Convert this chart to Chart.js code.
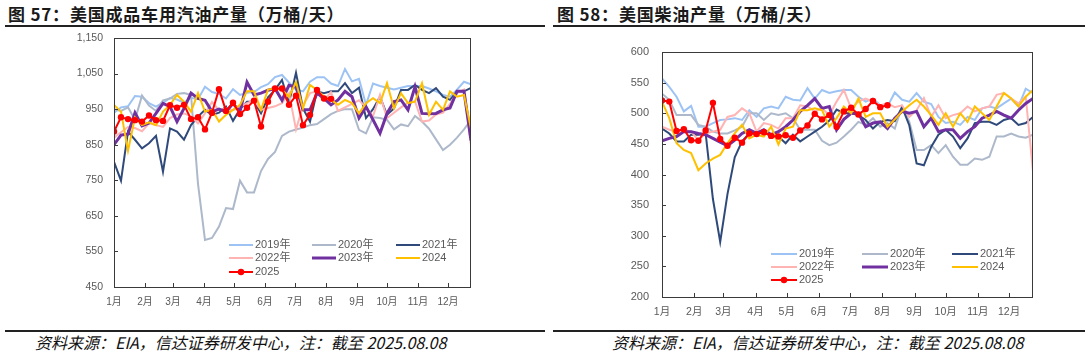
<!DOCTYPE html>
<html><head><meta charset="utf-8">
<script src="https://cdn.jsdelivr.net/npm/chart.js@4.4.1/dist/chart.umd.min.js"></script>
<style>
body{margin:0;width:1088px;height:355px;background:#fff;position:relative;overflow:hidden;font-family:"Noto Sans CJK SC",sans-serif;}
.title{position:absolute;top:3px;font-weight:bold;font-size:17px;letter-spacing:0.8px;color:#1a1a1a;white-space:nowrap;line-height:22px}
.hr{position:absolute;height:1.5px;background:#222}
.foot{position:absolute;top:331px;font-style:italic;font-size:16px;color:#111;white-space:nowrap;line-height:22px}
canvas{position:absolute}
</style></head><body>
<div class="title" style="left:8px">图 57：美国成品车用汽油产量（万桶/天）</div>
<div class="title" style="left:557px">图 58：美国柴油产量（万桶/天）</div>
<div class="hr" style="left:5px;width:540px;top:25px"></div>
<div class="hr" style="left:553px;width:532px;top:25px"></div>
<canvas id="c1" width="430" height="305" style="left:50px;top:13px"></canvas>
<canvas id="c2" width="442" height="303" style="left:600px;top:27px"></canvas>
<div class="hr" style="left:5px;width:540px;top:330px"></div>
<div class="hr" style="left:553px;width:532px;top:330px"></div>
<div class="foot" style="left:35px">资料来源：EIA，信达证券研发中心，注：截至 2025.08.08</div>
<div class="foot" style="left:612px">资料来源：EIA，信达证券研发中心，注：截至 2025.08.08</div>
<script>
// ---- categories / ticks ----
const weekIdx = [0,1,2,3,4,5,6,7,8,9,10,11,12,13,14,15,16,17,18,19,20,21,22,23,24,25,26,27,28,29,30,31,32,33,34,35,36,37,38,39,40,41,42,43,44,45,46,47,48,49,50,51];
const monthLabels = ['1月','2月','3月','4月','5月','6月','7月','8月','9月','10月','11月','12月'];
const monthStartDays = [0,31,59,90,120,151,181,212,243,273,304,334];
const seriesLabels = ['2019年','2020年','2021年','2022年','2023年','2024','2025'];

// ---- 图57 美国成品车用汽油产量（万桶/天） ----
const gas2019 = [940,955,958,987,985,967,957,968,981,977,968,982,978,1013,998,993,980,1006,990,996,998,1012,1020,1040,1046,1025,1005,1000,1027,1040,1040,1022,1015,1063,1028,1035,962,1022,1015,1010,1005,1010,1015,1015,1015,1008,1000,990,985,1005,1027,1020];
const gas2020 = [950,945,955,920,988,960,945,975,980,993,995,990,740,582,588,620,672,669,749,716,716,776,810,830,875,887,893,898,905,908,922,936,945,950,950,892,882,927,925,920,893,907,902,931,915,895,865,835,850,870,893,920];
const gas2021 = [802,749,887,864,840,854,875,774,896,887,864,905,929,948,934,940,957,917,950,971,971,938,983,1004,1032,968,1052,952,915,1000,995,1000,1000,1023,995,1010,925,950,985,934,952,1004,1004,1018,1004,995,1009,985,976,1000,1000,1010];
const gas2022 = [870,885,900,897,888,910,905,900,925,935,938,930,910,938,970,947,952,947,957,967,975,948,953,958,967,995,893,960,995,1000,975,998,945,955,965,975,955,930,990,925,940,955,968,972,915,918,935,940,965,995,1005,848];
const gas2023 = [850,877,880,940,903,911,938,966,957,915,952,995,980,975,943,950,943,966,943,1026,990,995,1003,1008,975,1017,1012,948,948,995,980,962,976,1000,985,925,957,920,882,938,971,976,948,1013,938,937,938,948,953,1000,1000,862];
const gas2024 = [962,943,833,927,905,913,905,943,962,990,971,943,995,943,948,915,934,948,962,1000,1000,948,1005,1008,1005,985,1026,952,1018,1004,985,976,962,976,967,938,967,981,967,1023,952,995,967,971,1023,934,971,948,1000,985,990,895];
const gas2025 = [887,927,922,919,915,932,919,917,961,954,962,922,927,893,940,1006,945,968,936,954,974,901,971,1008,1008,962,988,905,934,1004,980,979];
const gasYTicks = {min:450, max:1150, step:100};

// ---- 图58 美国柴油产量（万桶/天） ----
const dsl2019 = [557,543,527,503,512,478,478,484,489,490,492,489,505,494,508,511,508,527,522,521,541,524,538,533,536,538,538,527,519,524,513,511,534,522,519,533,519,515,494,484,486,481,494,489,508,511,508,516,524,511,540,533];
const dsl2020 = [532,522,497,497,497,481,478,470,467,467,472,478,500,500,489,500,497,500,492,473,473,473,455,448,452,462,473,486,481,492,478,484,475,511,486,440,440,448,435,448,429,416,416,426,424,429,462,462,467,462,460,465];
const dsl2021 = [475,467,454,454,465,465,467,360,290,368,428,454,467,470,470,462,462,451,465,454,462,470,478,488,506,500,500,497,489,475,486,489,487,510,480,418,415,445,465,473,462,443,459,484,486,486,481,489,492,481,484,494];
const dsl2022 = [478,473,470,473,470,456,467,470,473,494,497,508,500,470,484,481,475,492,492,513,511,503,508,497,519,538,508,519,524,519,513,516,510,513,494,505,525,494,513,492,497,500,511,503,508,511,530,533,524,516,527,405];
const dsl2023 = [455,459,462,470,470,467,465,459,453,447,456,467,473,467,473,465,470,478,489,503,513,524,508,511,473,490,500,500,478,484,486,475,492,503,500,503,478,492,470,473,473,459,470,478,492,497,503,497,492,505,516,524];
const dsl2024 = [519,492,451,440,435,407,418,426,432,451,467,481,459,465,462,478,449,475,478,505,505,508,505,478,492,511,500,524,494,500,500,478,490,503,513,522,511,497,481,500,478,500,486,511,500,489,511,533,524,511,527,538];
const dsl2025 = [521,519,471,474,456,455,472,517,458,447,460,452,467,466,469,463,462,464,460,472,480,499,490,497,478,503,509,498,507,520,510,513];
const dslYTicks = {min:200, max:600, step:50};

// ---- styles ----
const colors = ['#9DC3F5','#ADB9CA','#2F4A7A','#FFB3B3','#7030A0','#FFC000','#FF0000'];
const widths = [2,2,2,2,3,2,2];
const FAMILY = '"Liberation Sans","Noto Sans CJK SC",sans-serif';

const framePlugin = {
  id:'frame',
  afterDraw(chart){
    const {ctx, chartArea:a, scales} = chart;
    const o = chart.options.plugins.frame;
    ctx.save();
    ctx.strokeStyle = '#3a3a3a'; ctx.lineWidth = 1;
    ctx.strokeRect(Math.round(a.left)+0.5, Math.round(a.top)+0.5, Math.round(a.right-a.left)-1, Math.round(a.bottom-a.top));
    ctx.beginPath();
    scales.y.ticks.forEach(t=>{const y=Math.round(scales.y.getPixelForValue(t.value))+0.5; ctx.moveTo(a.left,y); ctx.lineTo(a.left+4,y);});
    scales.x.ticks.forEach(t=>{const x=Math.round(scales.x.getPixelForValue(t.value))+0.5; ctx.moveTo(x,a.bottom); ctx.lineTo(x,a.bottom-4);});
    ctx.stroke();
    // legend
    ctx.font = '11px ' + FAMILY; ctx.textBaseline = 'middle'; ctx.fillStyle = '#595959';
    chart.data.datasets.forEach((d,i)=>{
      const col = i%3, row = Math.floor(i/3);
      const x = a.left + o.cols[col], y = a.top + o.rows[row];
      ctx.strokeStyle = d.borderColor; ctx.lineWidth = d.borderWidth;
      ctx.beginPath(); ctx.moveTo(x,y); ctx.lineTo(x+o.len,y); ctx.stroke();
      if (d.pointRadius>0){ctx.fillStyle=d.borderColor;ctx.beginPath();ctx.arc(x+o.len/2,y,3.2,0,Math.PI*2);ctx.fill();}
      ctx.fillStyle = '#595959';
      ctx.fillText(d.label, x+o.len+2, y);
    });
    ctx.restore();
  }
};

function build(id, data, yt, fmt, opt){
  const datasets = data.map((arr,i)=>({
    label: seriesLabels[i], data: arr, borderColor: colors[i], backgroundColor: colors[i],
    borderWidth: widths[i], pointRadius: i===6?3.2:0, pointHoverRadius:0,
    pointBackgroundColor: colors[i], pointBorderWidth:0, tension:0, fill:false, order: 6-i
  }));
  new Chart(document.getElementById(id), {
    type:'line',
    data:{labels: weekIdx, datasets},
    options:{
      responsive:false, animation:false, devicePixelRatio:1,
      layout:{padding:{top:25,left:0,right:9,bottom:0}},
      events:[],
      plugins:{legend:{display:false}, tooltip:{enabled:false},
        frame:{cols:opt.cols, rows:opt.rows, len:opt.len}},
      scales:{
        x:{type:'linear', min:0, max:51, grid:{display:false, drawTicks:false}, border:{display:false},
          afterBuildTicks: s => { s.ticks = monthStartDays.map(d=>({value:d/7})); },
          afterFit: s => { s.height = opt.xh; },
          ticks:{autoSkip:false, maxRotation:0, minRotation:0, padding:9, color:'#595959',
            font:{size:opt.xfs, family:FAMILY}, callback:(v,i)=>monthLabels[i]}},
        y:{min:yt.min, max:yt.max, grid:{display:false, drawTicks:false}, border:{display:false},
          afterFit: s => { s.width = opt.yw; },
          ticks:{stepSize:yt.step, padding:opt.ypad, color:'#595959',
            font:{size:opt.yfs, family:FAMILY}, callback: v=>fmt(v)}}
      }
    },
    plugins:[framePlugin]
  });
}

build('c1', [gas2019,gas2020,gas2021,gas2022,gas2023,gas2024,gas2025], gasYTicks,
  v=>v.toLocaleString('en-US'),
  {yw:64, xh:31, xfs:10, yfs:10.5, ypad:11, cols:[115,198,282], rows:[207,220,234], len:24});
build('c2', [dsl2019,dsl2020,dsl2021,dsl2022,dsl2023,dsl2024,dsl2025], dslYTicks,
  v=>String(v),
  {yw:62, xh:33, xfs:10.5, yfs:11, ypad:13, cols:[109,200,290], rows:[202,215,228], len:26});
</script>
</body></html>
